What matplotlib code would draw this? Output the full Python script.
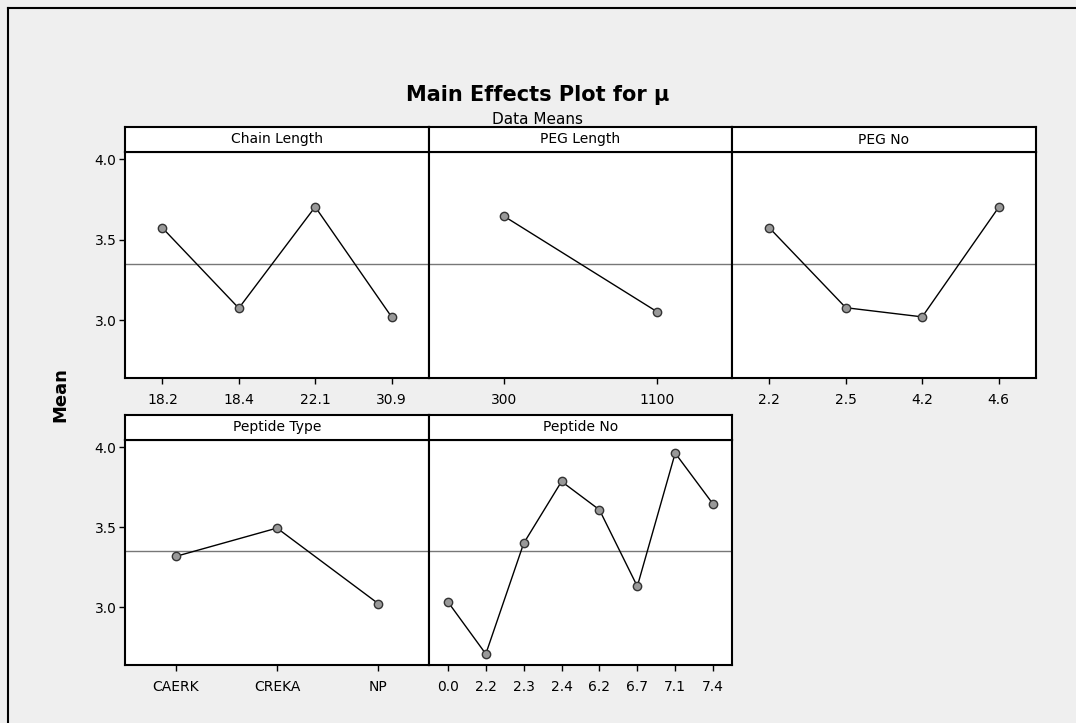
import matplotlib
matplotlib.use("Agg")
import matplotlib.pyplot as plt
from matplotlib.lines import Line2D

# factor levels and mean response
chain_levels = ["18.2", "18.4", "22.1", "30.9"]
chain_means = [3.573, 3.074, 3.704, 3.020]
peglen_levels = ["300", "1100"]
peglen_means = [3.646, 3.052]
pegno_levels = ["2.2", "2.5", "4.2", "4.6"]
pegno_means = [3.573, 3.077, 3.020, 3.700]
ptype_levels = ["CAERK", "CREKA", "NP"]
ptype_means = [3.318, 3.495, 3.023]
pno_levels = ["0.0", "2.2", "2.3", "2.4", "6.2", "6.7", "7.1", "7.4"]
pno_means = [3.034, 2.709, 3.400, 3.786, 3.609, 3.131, 3.963, 3.645]
grand_mean = 3.35

W, H = 1076, 723
fig = plt.figure(figsize=(W / 100, H / 100), dpi=100)
fig.patch.set_facecolor("#efefef")

# outer frame (left and top edges)
fig.add_artist(Line2D([8 / W, 8 / W], [0, 1 - 8 / H], color="black", lw=1.5))
fig.add_artist(Line2D([8 / W, 1], [1 - 8 / H, 1 - 8 / H], color="black", lw=1.5))

fig.text(538 / W, 1 - 95 / H, "Main Effects Plot for μ", ha="center", va="center",
         fontsize=15, fontweight="bold")
fig.text(538 / W, 1 - 120 / H, "Data Means", ha="center", va="center", fontsize=11)
fig.text(60 / W, 1 - 395 / H, "Mean", ha="center", va="center", rotation=90,
         fontsize=13, fontweight="bold")


def panel(x0, x1, y_head, y_top, y_bot, name, levels, means, left):
    ax = fig.add_axes([x0 / W, 1 - y_bot / H, (x1 - x0) / W, (y_bot - y_top) / H])
    xs = list(range(len(levels)))
    ax.axhline(grand_mean, color="#777777", lw=1)
    ax.plot(xs, means, color="black", lw=1, marker="o", markersize=6,
            markerfacecolor="#999999", markeredgecolor="#333333", markeredgewidth=1)
    margin = 0.49 if len(levels) <= 4 and len(levels) != 3 else 0.5
    ax.set_xlim(-margin, len(levels) - 1 + margin)
    ax.set_ylim(2.64, 4.045)
    ax.set_xticks(xs)
    ax.set_xticklabels(levels, fontsize=10)
    ax.set_yticks([3.0, 3.5, 4.0])
    ax.tick_params(direction="out", length=4, width=1, pad=7)
    if left:
        ax.set_yticklabels(["3.0", "3.5", "4.0"], fontsize=10)
        ax.tick_params(axis="y", pad=2)
    else:
        ax.tick_params(axis="y", left=False, labelleft=False)
    for s in ax.spines.values():
        s.set_linewidth(1.5)
    # strip header
    hx = fig.add_axes([x0 / W, 1 - y_top / H, (x1 - x0) / W, (y_top - y_head) / H])
    hx.set_xticks([])
    hx.set_yticks([])
    for s in hx.spines.values():
        s.set_linewidth(1.5)
    hx.text(0.5, 0.5, name, ha="center", va="center", fontsize=10, transform=hx.transAxes)
    return ax


panel(125, 429, 127, 152, 378, "Chain Length", chain_levels, chain_means, True)
panel(429, 732, 127, 152, 378, "PEG Length", peglen_levels, peglen_means, False)
panel(732, 1036, 127, 152, 378, "PEG No", pegno_levels, pegno_means, False)
panel(125, 429, 415, 440, 665, "Peptide Type", ptype_levels, ptype_means, True)
panel(429, 732, 415, 440, 665, "Peptide No", pno_levels, pno_means, False)

fig.savefig("out.png", dpi=100, facecolor=fig.get_facecolor())
